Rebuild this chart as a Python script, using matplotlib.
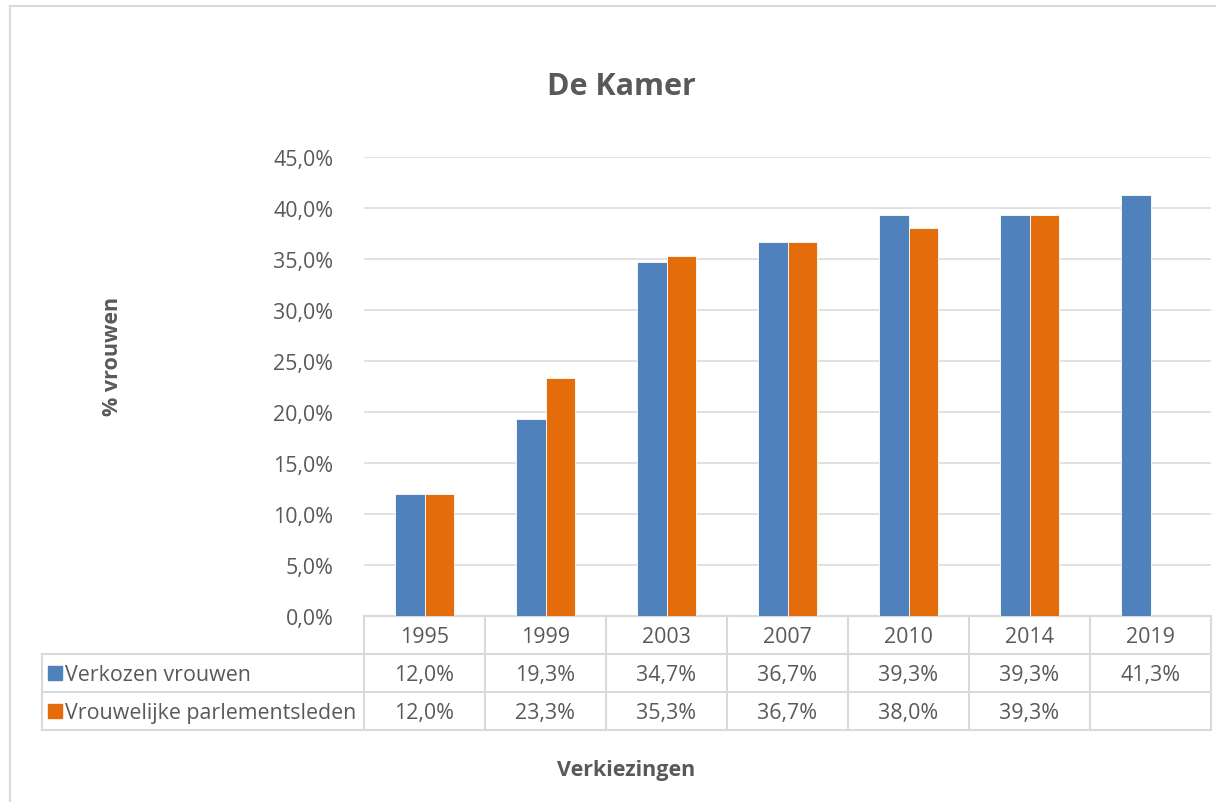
import numpy as np
import matplotlib
matplotlib.use("Agg")
import matplotlib.pyplot as plt
import matplotlib.transforms as mtransforms
from matplotlib.patches import Rectangle

plt.rcParams['font.family'] = ['Open Sans', 'DejaVu Sans']

# data
years = ["1995", "1999", "2003", "2007", "2010", "2014", "2019"]
verkozen = [12.0, 19.3, 34.7, 36.7, 39.3, 39.3, 41.3]
parlementsleden = [12.0, 23.3, 35.3, 36.7, 38.0, 39.3, np.nan]
series_names = ["Verkozen vrouwen", "Vrouwelijke parlementsleden"]
series_colors = ["#4f81bd", "#e46c0a"]
yticks = [0, 5, 10, 15, 20, 25, 30, 35, 40, 45]

W, H = 1216, 803
TXT = "#595959"
GRID = "#d9d9d9"
FS = 15.4


def fx(px):
    return px / W


def fy(py):
    return 1 - py / H


fig = plt.figure(figsize=(W / 100, H / 100), dpi=100)

# outer chart border (right and bottom cut off in the original)
fig.add_artist(plt.Line2D([fx(10), fx(10)], [fy(7), 0], color=GRID, lw=1.5))
fig.add_artist(plt.Line2D([fx(10), 1], [fy(7), fy(7)], color=GRID, lw=1.5))

ax_l, ax_r, ax_t, ax_b = 364, 1211, 158, 617
ax = fig.add_axes([fx(ax_l), fy(ax_b), fx(ax_r - ax_l), (ax_b - ax_t) / H])

x = np.arange(len(years))
bw = 0.24
ax.bar(x - bw / 2, verkozen, bw, color=series_colors[0], edgecolor="white", linewidth=0.6, zorder=3)
ax.bar(x + bw / 2, parlementsleden, bw, color=series_colors[1], edgecolor="white", linewidth=0.6, zorder=3)

ax.set_xlim(-0.5, len(years) - 0.5)
ax.set_ylim(0, 45)
ax.set_yticks(yticks)
ax.set_yticklabels([f"{v:.1f}%".replace(".", ",") for v in yticks])
ax.set_xticks([])
ax.grid(axis="y", color=GRID, lw=1.1, zorder=0)
for s in ax.spines.values():
    s.set_visible(False)
ax.tick_params(axis="y", length=0, pad=22, labelsize=FS, labelcolor=TXT)

# data table below the axis
ah = ax_b - ax_t
tr = mtransforms.blended_transform_factory(ax.transData, ax.transAxes)


def ay(py):
    return (ax_b - py) / ah


rows = [617, 655, 693, 731]
lw = 1.5
# horizontal lines
ax.plot([-0.5, len(years) - 0.5], [ay(rows[0])] * 2, transform=tr, color=GRID, lw=lw, clip_on=False)
for r in rows[1:]:
    fig.add_artist(plt.Line2D([fx(42), fx(ax_r)], [fy(r)] * 2, color=GRID, lw=lw))
# vertical lines
for b in np.arange(len(years) + 1) - 0.5:
    ax.plot([b, b], [ay(rows[0]), ay(rows[3])], transform=tr, color=GRID, lw=lw, clip_on=False)
fig.add_artist(plt.Line2D([fx(42), fx(42)], [fy(rows[1]), fy(rows[3])], color=GRID, lw=lw))

for i, yr in enumerate(years):
    ax.text(i, ay((rows[0] + rows[1]) / 2 + 2), yr, transform=tr, ha="center", va="center",
            fontsize=FS, color=TXT)

for k, vals in enumerate([verkozen, parlementsleden]):
    yc = (rows[k + 1] + rows[k + 2]) / 2
    for i, v in enumerate(vals):
        if np.isnan(v):
            continue
        ax.text(i, ay(yc + 2), f"{v:.1f}%".replace(".", ","), transform=tr, ha="center",
                va="center", fontsize=FS, color=TXT)
    fig.add_artist(Rectangle((fx(48), fy(yc + 7)), fx(14), 14 / H, color=series_colors[k]))
    fig.text(fx(65), fy(yc + 2), series_names[k], ha="left", va="center", fontsize=FS, color=TXT)

fig.text(fx(621), fy(87), "De Kamer", ha="center", va="center", fontsize=22,
         fontweight="bold", color=TXT)
fig.text(fx(113), fy(356), "% vrouwen", ha="center", va="center", rotation=90,
         fontsize=15.5, fontweight="bold", color=TXT)
fig.text(fx(626), fy(771), "Verkiezingen", ha="center", va="center", fontsize=15.5,
         fontweight="bold", color=TXT)

fig.savefig("out.png", dpi=100, facecolor="white")
